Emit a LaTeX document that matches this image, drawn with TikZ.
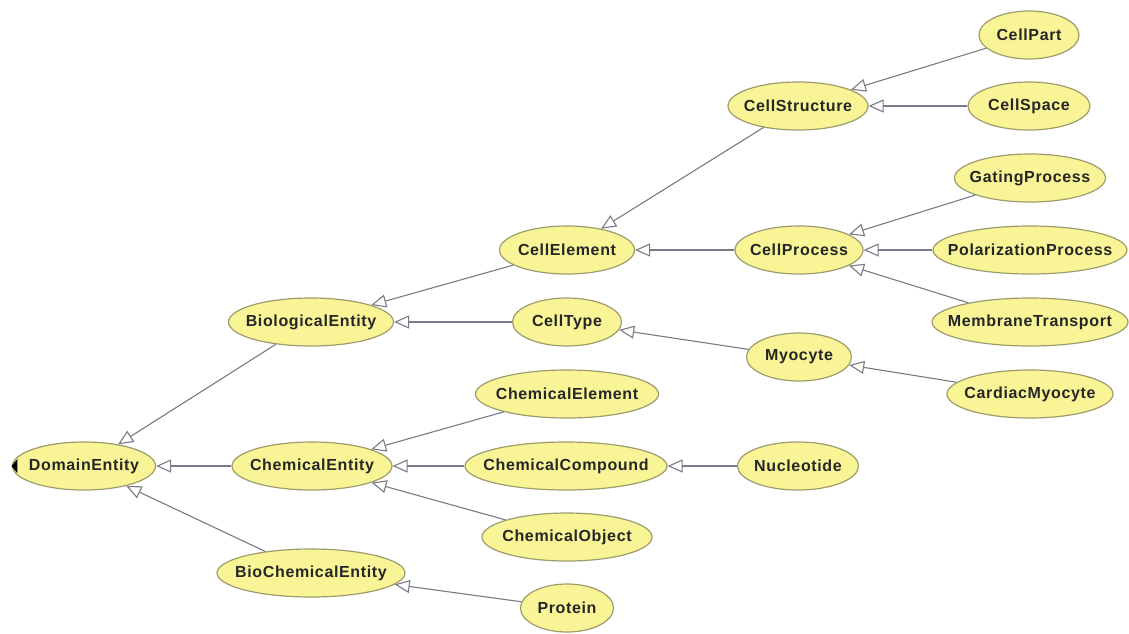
\documentclass[tikz,border=0pt]{standalone}
\usepackage{fontspec}
\setmainfont{Liberation Sans}[LetterSpace=4]
\usetikzlibrary{arrows.meta,shapes.geometric}
\definecolor{clsfill}{RGB}{249,245,150}
\definecolor{clsdraw}{RGB}{158,156,108}
\definecolor{edgegray}{RGB}{122,122,134}

\begin{document}
\begin{tikzpicture}[
  x=1pt, y=-1pt,
  cls/.style={ellipse, draw=clsdraw, fill=clsfill, line width=1.2pt, inner xsep=-60pt, inner ysep=0pt,
    minimum height=48pt, text=black!85, font=\bfseries\fontsize{16}{19}\selectfont},
  arr/.style={-{Triangle[open, length=15pt, width=13pt]}, draw=edgegray, line width=1.1pt}
]
\fill[white] (0,0) rectangle (1129,633);
\useasboundingbox (0,0) rectangle (1129,633);

% column 1
\node[cls, minimum width=143pt] (dom) at (84,466) {DomainEntity};
\fill[black] ([xshift=5.5pt]dom.west) ++(0,-7) -- ++(0,14) -- ++(-6,-7) -- cycle;

% column 2
\node[cls, minimum width=165pt] (bio) at (311,322) {BiologicalEntity};
\node[cls, minimum width=160pt] (chem) at (312,466) {ChemicalEntity};
\node[cls, minimum width=188pt] (biochem) at (311,573) {BioChemicalEntity};

% column 3
\node[cls, minimum width=135pt] (celem) at (567,250) {CellElement};
\node[cls, minimum width=109pt] (ctype) at (567,322) {CellType};
\node[cls, minimum width=183pt] (chelem) at (567,394) {ChemicalElement};
\node[cls, minimum width=202pt] (chcomp) at (566,466) {ChemicalCompound};
\node[cls, minimum width=170pt] (chobj) at (567,537) {ChemicalObject};
\node[cls, minimum width=93pt] (prot) at (567,608) {Protein};

% column 4
\node[cls, minimum width=140pt] (cstruct) at (798,106) {CellStructure};
\node[cls, minimum width=128pt] (cproc) at (799,250) {CellProcess};
\node[cls, minimum width=105pt] (myo) at (799,357) {Myocyte};
\node[cls, minimum width=121pt] (nucl) at (798,466) {Nucleotide};

% column 5
\node[cls, minimum width=100pt] (cpart) at (1029,35) {CellPart};
\node[cls, minimum width=122pt] (cspace) at (1029,106) {CellSpace};
\node[cls, minimum width=151pt] (gating) at (1030,178) {GatingProcess};
\node[cls, minimum width=194pt] (polar) at (1030,250) {PolarizationProcess};
\node[cls, minimum width=196pt] (membr) at (1030,322) {MembraneTransport};
\node[cls, minimum width=166pt] (cardiac) at (1030,394) {CardiacMyocyte};

% subclass links
\draw[arr] (bio) -- (dom);
\draw[arr] (chem) -- (dom);
\draw[arr] (biochem) -- (dom);
\draw[arr] (celem) -- (bio);
\draw[arr] (ctype) -- (bio);
\draw[arr] (chelem) -- (chem);
\draw[arr] (chcomp) -- (chem);
\draw[arr] (chobj) -- (chem);
\draw[arr] (prot) -- (biochem);
\draw[arr] (cstruct) -- (celem);
\draw[arr] (cproc) -- (celem);
\draw[arr] (myo) -- (ctype);
\draw[arr] (nucl) -- (chcomp);
\draw[arr] (cpart) -- (cstruct);
\draw[arr] (cspace) -- (cstruct);
\draw[arr] (gating) -- (cproc);
\draw[arr] (polar) -- (cproc);
\draw[arr] (membr) -- (cproc);
\draw[arr] (cardiac) -- (myo);

\end{tikzpicture}
\end{document}
